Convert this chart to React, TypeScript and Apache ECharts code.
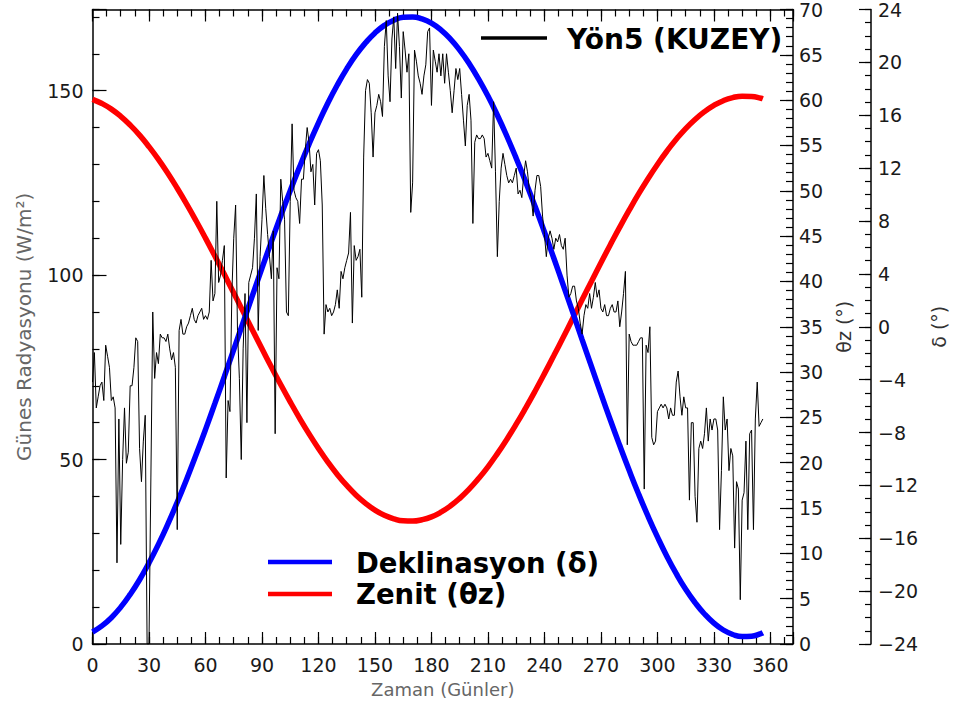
import React, { useEffect, useRef } from 'react';
import * as echarts from 'echarts';

// Daily solar radiation (W/m^2), one value per record (index 0..356)
const radiation: number[] = [
  71, 79, 64, 67, 70, 71, 66, 81, 78, 75,
  66, 67, 64, 22, 61, 27, 50, 64, 49, 52,
  70, 70, 75, 83, 82, 53, 44, 55, 62,
  0, 0, 45, 90, 72, 79, 76, 84, 83, 83,
  82, 84, 80, 77, 79, 75, 31, 85, 88, 84,
  84, 86, 87, 89, 91, 88, 87, 89, 90, 91,
  88, 89, 88, 90, 104, 93, 95, 120, 98,
  100, 104, 108, 45, 66, 63, 95, 110, 119, 85,
  72, 50, 80, 95, 60, 98, 100, 102, 110, 122,
  85, 105, 115, 127, 118, 111, 105, 99, 112, 57,
  102, 99, 126, 120, 115, 90, 89, 120, 141, 123,
  121, 120, 114, 126, 126, 134, 140, 136, 128,
  130, 119, 133, 134, 131, 119, 84, 92, 90, 91,
  89, 90, 92, 96, 91, 101, 99, 102, 104, 106,
  117, 87, 108, 104, 105, 107, 94, 132, 150, 153,
  152, 144, 132, 144, 146, 149, 147, 143, 162,
  169, 154, 147, 164, 170, 156, 171, 162, 148, 166,
  161, 155, 160, 117, 125, 161, 158, 154, 152, 149,
  154, 157, 166, 167, 146, 161, 158, 155, 160, 154,
  160, 152, 160, 155, 150, 144, 150, 156, 153, 156,
  149, 142, 135, 146, 149, 142, 114, 136, 138,
  137, 137, 138, 137, 132, 133, 131, 129, 147, 128,
  105, 120, 129, 133, 130, 127, 125, 126, 125, 127,
  129, 122, 123, 121, 127, 131, 128, 123, 121, 116,
  123, 127, 127, 124, 116, 111, 105, 110, 112,
  110, 107, 110, 109, 111, 108, 107, 110, 100, 94,
  95, 97, 97, 93, 91, 87, 84, 89, 92, 91,
  95, 91, 94, 98, 94, 96, 91, 90, 92, 89,
  89, 91, 92, 90, 90, 93, 86, 90, 95, 101,
  54, 84, 82, 81, 81, 81, 82, 83, 83,
  42, 81, 79, 86, 56, 54, 55, 63, 64, 65,
  64, 65, 64, 61, 64, 62, 62, 71, 74, 67,
  62, 67, 64, 64, 39, 60, 60, 40, 33, 53,
  55, 53, 57, 64, 55, 61, 58, 61, 61,
  58, 31, 47, 67, 58, 61, 47, 53, 51, 26,
  44, 42, 12, 39, 41, 55, 31, 57, 58, 31,
  61, 71, 59, 60, 61,
];

// Sample positions for the smooth curves
const curveDays: number[] = [
  0, 5, 10, 15, 20, 25, 30, 35, 40, 45, 50, 55, 60, 65, 70, 75, 80, 85, 90, 95,
  100, 105, 110, 115, 120, 125, 130, 135, 140, 145, 150, 155, 160, 165, 170, 175,
  180, 185, 190, 195, 200, 205, 210, 215, 220, 225, 230, 235, 240, 245, 250, 255,
  260, 265, 270, 275, 280, 285, 290, 295, 300, 305, 310, 315, 320, 325, 330, 335,
  340, 345, 350, 355, 356,
];

// Declination (deg)
const declination: number[] = [
  -23.09, -22.63, -22.01, -21.21, -20.25, -19.14, -17.86, -16.46, -14.93, -13.28,
  -11.53, -9.69, -7.78, -5.8, -3.78, -1.73, 0.33, 2.39, 4.43, 6.44,
  8.4, 10.29, 12.1, 13.82, 15.43, 16.93, 18.29, 19.51, 20.58, 21.48,
  22.23, 22.8, 23.19, 23.41, 23.44, 23.29, 22.97, 22.46, 21.78, 20.93,
  19.92, 18.75, 17.45, 16.0, 14.43, 12.75, 10.97, 9.11, 7.17, 5.18,
  3.15, 1.1, -0.97, -3.02, -5.06, -7.05, -8.99, -10.86, -12.65, -14.33,
  -15.9, -17.36, -18.68, -19.86, -20.87, -21.73, -22.42, -22.94, -23.28, -23.44,
  -23.41, -23.21, -23.15,
];

// Zenith angle (deg)
const zenith: number[] = [
  60.09, 59.63, 59.01, 58.21, 57.25, 56.14, 54.86, 53.46, 51.93, 50.28,
  48.53, 46.69, 44.78, 42.8, 40.78, 38.73, 36.67, 34.61, 32.57, 30.56,
  28.6, 26.71, 24.9, 23.18, 21.57, 20.07, 18.71, 17.49, 16.42, 15.52,
  14.77, 14.2, 13.81, 13.59, 13.56, 13.71, 14.03, 14.54, 15.22, 16.07,
  17.08, 18.25, 19.55, 21.0, 22.57, 24.25, 26.03, 27.89, 29.83, 31.82,
  33.85, 35.9, 37.97, 40.02, 42.06, 44.05, 45.99, 47.86, 49.65, 51.33,
  52.9, 54.36, 55.68, 56.86, 57.87, 58.73, 59.42, 59.94, 60.28, 60.44,
  60.41, 60.21, 60.15,
];

const dayTicks: number[] = [0, 30, 60, 90, 120, 150, 180, 210, 240, 270, 300, 330, 360];
const radTicks: number[] = [0, 50, 100, 150];
const zenTicks: number[] = [0, 5, 10, 15, 20, 25, 30, 35, 40, 45, 50, 55, 60, 65, 70];
const decTicks: number[] = [-24, -20, -16, -12, -8, -4, 0, 4, 8, 12, 16, 20, 24];

const FONT = 'DejaVu Sans';
const labelStyle = { fontFamily: FONT, fontSize: 19, fontWeight: 'normal' as any, color: '#1a1a1a' };
const axLine = { show: true, onZero: false, lineStyle: { color: '#000', width: 1.5 } };
const tickLine = { color: '#000', width: 1.2 };

function fmtMinus(v: number) {
  return v < 0 ? '\u2212' + Math.abs(v) : String(v);
}

export default function App() {
  const ref = useRef<HTMLDivElement>(null);
  useEffect(() => {
    if (!ref.current) return;
    const chart = echarts.init(ref.current, undefined, { renderer: 'svg' });
    const xBase = (extra: any) => ({
      type: 'value',
      min: 0,
      max: 372,
      splitLine: { show: false },
      ...extra,
    });
    const option: any = {
      animation: false,
      backgroundColor: '#ffffff',
      grid: { left: 92.5, right: 159.5, top: 5, bottom: 69, containLabel: false },
      xAxis: [
        xBase({
          position: 'bottom',
          interval: 30,
          axisLine: axLine,
          axisTick: { inside: true, length: 12, lineStyle: tickLine },
          axisLabel: {
            ...labelStyle,
            margin: 11,
            formatter: (v: number) => (dayTicks.indexOf(v) >= 0 ? String(v) : ''),
          },
          name: 'Zaman (Günler)',
          nameLocation: 'middle',
          nameGap: 36,
          nameTextStyle: { fontFamily: FONT, fontSize: 18, color: '#666' },
        }),
        xBase({
          position: 'bottom',
          interval: 7.5,
          axisLine: { show: false, onZero: false },
          axisTick: { inside: true, length: 7, lineStyle: tickLine },
          axisLabel: { show: false },
        }),
        xBase({
          position: 'top',
          interval: 30,
          axisLine: axLine,
          axisTick: { inside: true, length: 12, lineStyle: tickLine },
          axisLabel: { show: false },
        }),
        xBase({
          position: 'top',
          interval: 7.5,
          axisLine: { show: false, onZero: false },
          axisTick: { inside: true, length: 7, lineStyle: tickLine },
          axisLabel: { show: false },
        }),
      ],
      yAxis: [
        {
          type: 'value', position: 'left', min: 0, max: 172, interval: 50,
          splitLine: { show: false },
          axisLine: axLine,
          axisTick: { inside: true, length: 14, lineStyle: tickLine },
          axisLabel: {
            ...labelStyle,
            margin: 9,
            formatter: (v: number) => (radTicks.indexOf(v) >= 0 ? String(v) : ''),
          },
          name: 'Günes Radyasyonu (W/m²)',
          nameLocation: 'middle',
          nameGap: 59,
          nameTextStyle: { fontFamily: FONT, fontSize: 20, color: '#666' },
        },
        {
          type: 'value', position: 'left', min: 0, max: 172, interval: 10,
          splitLine: { show: false },
          axisLine: { show: false, onZero: false },
          axisTick: { inside: true, length: 7, lineStyle: tickLine },
          axisLabel: { show: false },
        },
        {
          type: 'value', position: 'right', min: 0, max: 70, interval: 5,
          splitLine: { show: false },
          axisLine: axLine,
          axisTick: { inside: true, length: 13, lineStyle: tickLine },
          axisLabel: {
            ...labelStyle,
            margin: 6,
            formatter: (v: number) => (zenTicks.indexOf(v) >= 0 ? String(v) : ''),
          },
          name: 'θz (°)',
          nameLocation: 'middle',
          nameGap: 37,
          nameTextStyle: { fontFamily: FONT, fontSize: 19, color: '#333' },
        },
        {
          type: 'value', position: 'right', min: 0, max: 70, interval: 1,
          splitLine: { show: false },
          axisLine: { show: false, onZero: false },
          axisTick: { inside: true, length: 7, lineStyle: tickLine },
          axisLabel: { show: false },
        },
        {
          type: 'value', position: 'right', offset: 78, min: -24, max: 24, interval: 4,
          splitLine: { show: false },
          axisLine: axLine,
          axisTick: { inside: true, length: 12, lineStyle: tickLine },
          axisLabel: {
            ...labelStyle,
            margin: 7,
            formatter: (v: number) => (decTicks.indexOf(v) >= 0 ? fmtMinus(v) : ''),
          },
          name: 'δ (°)',
          nameLocation: 'middle',
          nameGap: 56,
          nameTextStyle: { fontFamily: FONT, fontSize: 19, color: '#333' },
        },
        {
          type: 'value', position: 'right', offset: 78, min: -24, max: 24, interval: 1,
          splitLine: { show: false },
          axisLine: { show: false, onZero: false },
          axisTick: { inside: true, length: 6, lineStyle: tickLine },
          axisLabel: { show: false },
        },
      ],
      series: [
        {
          name: 'Zenit (θz)', type: 'line', xAxisIndex: 0, yAxisIndex: 2,
          data: curveDays.map((d, i) => [d, zenith[i]]),
          symbol: 'none', smooth: true, z: 2,
          lineStyle: { color: '#ff0000', width: 5.5 },
        },
        {
          name: 'Deklinasyon (δ)', type: 'line', xAxisIndex: 0, yAxisIndex: 4,
          data: curveDays.map((d, i) => [d, declination[i]]),
          symbol: 'none', smooth: true, z: 3,
          lineStyle: { color: '#0000ff', width: 5.5 },
        },
        {
          name: 'Yön5 (KUZEY)', type: 'line', xAxisIndex: 0, yAxisIndex: 0,
          data: radiation.map((v, i) => [i, v]),
          symbol: 'none', z: 4,
          lineStyle: { color: '#000000', width: 1 },
        },
      ],
      graphic: [
        { type: 'line', shape: { x1: 481, y1: 38, x2: 547, y2: 38 }, style: { stroke: '#000', lineWidth: 3.5 } },
        {
          type: 'text', x: 567, y: 39,
          style: { text: 'Yön5 (KUZEY)', fill: '#000', font: `bold 28px "${FONT}"`, textVerticalAlign: 'middle', verticalAlign: 'middle' },
        },
        { type: 'line', shape: { x1: 268, y1: 562, x2: 332, y2: 562 }, style: { stroke: '#0000ff', lineWidth: 4.5 } },
        {
          type: 'text', x: 356, y: 563,
          style: { text: 'Deklinasyon (δ)', fill: '#000', font: `bold 27.5px "${FONT}"`, textVerticalAlign: 'middle', verticalAlign: 'middle' },
        },
        { type: 'line', shape: { x1: 268, y1: 594, x2: 332, y2: 594 }, style: { stroke: '#ff0000', lineWidth: 4.5 } },
        {
          type: 'text', x: 356, y: 594,
          style: { text: 'Zenit (θz)', fill: '#000', font: `bold 27.5px "${FONT}"`, textVerticalAlign: 'middle', verticalAlign: 'middle' },
        },
      ],
    };
    chart.setOption(option);
    return () => chart.dispose();
  }, []);
  return (
    <div
      ref={ref}
      style={{ position: 'fixed', left: 0, top: 0, width: 956, height: 713, background: '#fff' }}
    />
  );
}
